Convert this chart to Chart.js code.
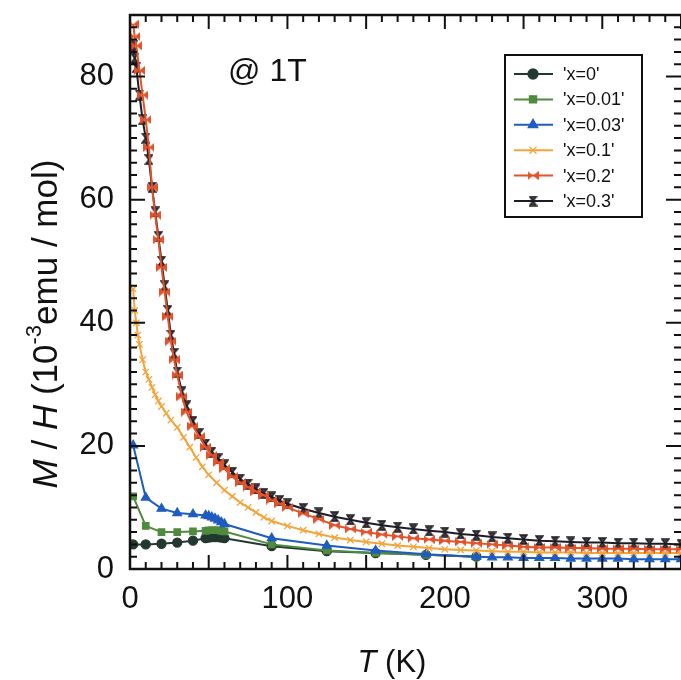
<!DOCTYPE html>
<html>
<head>
<meta charset="UTF-8">
<title>M/H vs T</title>
<script src="https://cdn.jsdelivr.net/npm/chart.js"></script>
<style>
  body { margin: 0; padding: 0; background: #fff; }
  #wrap { width: 681px; height: 680px; position: relative; }
</style>
</head>
<body>
<div id="wrap"><canvas id="mh"></canvas></div>
<script>
// series names
var seriesNames = ["'x=0'", "'x=0.01'", "'x=0.03'", "'x=0.1'", "'x=0.2'", "'x=0.3'"];

// temperatures (K)
var tSparse = [2, 10, 20, 30, 40, 48, 50, 52, 54, 56, 58, 60, 90, 125, 156, 188, 220];
var tBlue = [2, 10, 20, 30, 40, 48, 50, 52, 54, 56, 58, 60, 90, 125, 156, 188, 220, 230, 240, 250, 260, 270, 280, 290, 300, 310, 320, 330, 340, 350];
var tOrange = [2, 3, 4, 5, 6, 8, 10, 12, 14, 16, 18, 20, 23, 26, 30, 34, 38, 42, 46, 50, 55, 60, 65, 70, 75, 80, 85, 90,
  100, 110, 120, 130, 140, 150, 160, 170, 180, 190, 200, 210, 220, 230, 240, 250, 260, 270, 280, 290, 300, 310, 320, 330, 340, 350];
var tDense = [2, 3, 4, 6, 8, 10, 12, 14, 16, 18, 20, 22, 24, 26, 28, 30, 33, 36, 40, 44, 48, 52, 56, 60, 65, 70, 75, 80, 85, 90, 95, 100,
  110, 120, 130, 140, 150, 160, 170, 180, 190, 200, 210, 220, 230, 240, 250, 260, 270, 280, 290, 300, 310, 320, 330, 340, 350];

// M/H values (10^-3 emu/mol)
var mhX0 = [4.0, 4.0, 4.1, 4.3, 4.6, 5.0, 5.1, 5.2, 5.2, 5.2, 5.1, 5.0, 3.7, 2.9, 2.6, 2.3, 2.0];
var mhX001 = [11.8, 7.0, 6.0, 6.0, 6.1, 6.2, 6.3, 6.3, 6.3, 6.3, 6.2, 6.1, 4.0, 3.0, 2.6, 2.3, 2.0];
var mhX003 = [20.1, 11.6, 9.8, 9.1, 8.9, 8.7, 8.6, 8.4, 8.2, 7.9, 7.6, 7.3, 5.0, 3.8, 3.0, 2.4, 2.0, 1.9, 1.9, 1.8, 1.8, 1.8, 1.7, 1.7, 1.7, 1.7, 1.6, 1.6, 1.6, 1.6];
var mhX01 = [45.5, 42, 40, 38, 36.5, 34, 32, 30.8, 29.5, 28.3, 27.3, 26.4, 25.3, 24.2, 23, 21.4, 19.8, 18.1, 16.6, 15.3, 14, 12.8, 11.8, 10.8, 10, 9.2, 8.4, 7.8,
  7.0, 6.3, 5.7, 5.1, 4.7, 4.4, 4.1, 3.8, 3.6, 3.4, 3.2, 3.1, 3.0, 2.9, 2.8, 2.8, 2.7, 2.7, 2.7, 2.6, 2.6, 2.6, 2.6, 2.6, 2.6, 2.6];
var mhX02 = [88.5, 86.5, 85, 81, 77, 73, 68.5, 62, 57.5, 53.5, 49, 45, 41, 37, 34, 31.5, 28, 25.5, 23.2, 21.5, 19.8, 18.5, 17.3, 16.3, 15, 14, 13.3, 12.6, 12, 11.2, 10.6, 10,
  9.0, 8.1, 7.1, 6.5, 6.0, 5.6, 5.3, 5.0, 4.8, 4.6, 4.4, 4.2, 4.0, 3.8, 3.6, 3.5, 3.5, 3.4, 3.4, 3.3, 3.3, 3.3, 3.2, 3.2, 3.2];
var mhX03 = [85, 83, 81.5, 77, 73, 70, 66.5, 62, 58, 54, 50, 46, 42, 38, 35, 32, 28.8, 26.5, 24, 22, 20.3, 19, 17.9, 16.9, 15.7, 14.6, 13.8, 13, 12.3, 11.7, 11.1, 10.6,
  9.8, 9.1, 8.5, 8.0, 7.5, 7.1, 6.8, 6.5, 6.2, 6.0, 5.7, 5.5, 5.2, 5.0, 4.8, 4.6, 4.5, 4.4, 4.3, 4.3, 4.2, 4.2, 4.1, 4.1, 4.0];

// axis ticks
var xLabelTicks = [0, 100, 200, 300];
var yLabelTicks = [0, 20, 40, 60, 80];

function pts(ts, vs) {
  return ts.map(function (t, i) { return { x: t, y: vs[i] }; });
}

// bowtie marker for x=0.2
function bowtie(col) {
  var c = document.createElement('canvas');
  c.width = 11; c.height = 9;
  var g = c.getContext('2d');
  g.fillStyle = col;
  g.beginPath(); g.moveTo(0, 0); g.lineTo(5.5, 4.5); g.lineTo(0, 9); g.closePath(); g.fill();
  g.beginPath(); g.moveTo(11, 0); g.lineTo(5.5, 4.5); g.lineTo(11, 9); g.closePath(); g.fill();
  return c;
}
// hourglass marker for x=0.3
function hourglass(col) {
  var c = document.createElement('canvas');
  c.width = 9; c.height = 11;
  var g = c.getContext('2d');
  g.fillStyle = '#5a4040';
  g.strokeStyle = col;
  g.lineWidth = 1.4;
  g.beginPath(); g.moveTo(1, 1); g.lineTo(8, 1); g.lineTo(4.5, 5.5); g.lineTo(8, 10); g.lineTo(1, 10); g.lineTo(4.5, 5.5); g.closePath();
  g.fill(); g.stroke();
  return c;
}

var colors = ['#23392f', '#4f8a3e', '#1e5cc0', '#f3a43c', '#e2532c', '#1c1c24'];
var redMark = bowtie(colors[4]);
var blackMark = hourglass(colors[5]);

function ds(i, data, style, radius, order) {
  return {
    label: seriesNames[i],
    data: data,
    order: order,
    borderColor: colors[i],
    backgroundColor: colors[i],
    borderWidth: 2,
    pointStyle: style,
    pointRadius: radius,
    pointBorderWidth: 1.3,
    pointBorderColor: colors[i],
    pointBackgroundColor: colors[i],
    tension: 0,
    fill: false
  };
}

var datasets = [
  ds(0, pts(tSparse, mhX0), 'circle', 4.5, 6),
  ds(1, pts(tSparse, mhX001), 'rect', 4.5, 5),
  ds(2, pts(tBlue, mhX003), 'triangle', 5, 4),
  ds(3, pts(tOrange, mhX01), 'crossRot', 4.5, 3),
  ds(5, pts(tDense, mhX03), blackMark, 5, 2),
  ds(4, pts(tDense, mhX02), redMark, 5, 1)
];

var FONT = 'Arial, "Liberation Sans", sans-serif';

var deco = {
  id: 'deco',
  afterDraw: function (chart) {
    var ctx = chart.ctx, a = chart.chartArea, x = chart.scales.x, y = chart.scales.y;
    ctx.save();
    ctx.strokeStyle = '#111';
    ctx.lineWidth = 2.5;
    ctx.beginPath();
    ctx.moveTo(a.right + 2, a.top); ctx.lineTo(a.left, a.top); ctx.lineTo(a.left, a.bottom); ctx.lineTo(a.right + 2, a.bottom);
    ctx.stroke();

    // inward ticks
    ctx.lineWidth = 2;
    var v, px, len;
    for (v = 0; v <= 350; v += 10) {
      px = x.getPixelForValue(v);
      len = v % 50 === 0 ? 14 : 7;
      ctx.beginPath();
      ctx.moveTo(px, a.bottom); ctx.lineTo(px, a.bottom - len);
      ctx.moveTo(px, a.top); ctx.lineTo(px, a.top + len);
      ctx.stroke();
    }
    for (v = 0; v <= 90; v += 2) {
      px = y.getPixelForValue(v);
      len = v % 20 === 0 ? 15 : 7;
      ctx.beginPath();
      ctx.moveTo(a.left, px); ctx.lineTo(a.left + len, px);
      ctx.moveTo(a.right, px); ctx.lineTo(a.right - len, px);
      ctx.stroke();
    }

    // x title
    ctx.fillStyle = '#111';
    ctx.textBaseline = 'alphabetic';
    ctx.font = 'italic 31px ' + FONT;
    var wT = ctx.measureText('T').width;
    ctx.font = '31px ' + FONT;
    var wK = ctx.measureText(' (K)').width;
    var sx = 392 - (wT + wK) / 2;
    ctx.font = 'italic 31px ' + FONT;
    ctx.fillText('T', sx, 672);
    ctx.font = '31px ' + FONT;
    ctx.fillText(' (K)', sx + wT, 672);

    // y title
    ctx.save();
    ctx.translate(57, 324);
    ctx.rotate(-Math.PI / 2);
    var parts = [
      ['M', 'italic 35px ', 0], [' / ', '35px ', 0], ['H', 'italic 35px ', 0], [' (10', '35px ', 0],
      ['-3', '22px ', -16], ['emu / mol)', '35px ', 0]
    ];
    var total = 0;
    parts.forEach(function (p) { ctx.font = p[1] + FONT; p.push(ctx.measureText(p[0]).width); total += p[3]; });
    var cx = -total / 2;
    parts.forEach(function (p) {
      ctx.font = p[1] + FONT;
      ctx.fillText(p[0], cx, p[2]);
      cx += p[3];
    });
    ctx.restore();

    // annotation
    ctx.font = '32px ' + FONT;
    ctx.fillText('@ 1T', 228, 81);

    // legend
    var lx = 505, ly = 55, lw = 137, lh = 162;
    ctx.fillStyle = '#fff';
    ctx.fillRect(lx, ly, lw, lh);
    ctx.strokeStyle = '#111';
    ctx.lineWidth = 2;
    ctx.strokeRect(lx, ly, lw, lh);
    var order = [0, 1, 2, 3, 5, 4];
    order.forEach(function (di, row) {
      var d = chart.data.datasets[di];
      var ry = 74 + row * 25.4;
      ctx.strokeStyle = d.borderColor;
      ctx.lineWidth = 2;
      ctx.beginPath(); ctx.moveTo(514, ry); ctx.lineTo(553, ry); ctx.stroke();
      ctx.fillStyle = d.pointBackgroundColor;
      ctx.lineWidth = 1.3;
      Chart.helpers.drawPoint(ctx, { pointStyle: d.pointStyle, radius: d.pointRadius + 0.5, borderWidth: 1.3, rotation: 0 }, 533, ry);
      ctx.fillStyle = '#111';
      ctx.font = '18px ' + FONT;
      ctx.textBaseline = 'middle';
      ctx.fillText(d.label, 563, ry + 1);
    });
    ctx.restore();
  }
};

new Chart(document.getElementById('mh'), {
  type: 'line',
  data: { datasets: datasets },
  options: {
    responsive: true,
    maintainAspectRatio: false,
    animation: false,
    layout: { padding: { top: 15, left: 0, right: 0, bottom: 0 }, autoPadding: false },
    plugins: { legend: { display: false }, tooltip: { enabled: false } },
    scales: {
      x: {
        type: 'linear', min: 0, max: 350,
        grid: { display: false, drawTicks: false },
        border: { display: false },
        afterFit: function (s) { s.height = 111; s.paddingLeft = 0; s.paddingRight = 0; },
        afterBuildTicks: function (s) { s.ticks = xLabelTicks.map(function (v) { return { value: v }; }); },
        ticks: { color: '#111', padding: 12, font: { family: FONT, size: 31 }, maxRotation: 0 }
      },
      y: {
        min: 0, max: 90,
        grid: { display: false, drawTicks: false },
        border: { display: false },
        afterFit: function (s) { s.width = 130; s.paddingTop = 0; s.paddingBottom = 0; },
        afterBuildTicks: function (s) { s.ticks = yLabelTicks.map(function (v) { return { value: v }; }); },
        ticks: { color: '#111', padding: 16, font: { family: FONT, size: 31 } }
      }
    }
  },
  plugins: [deco]
});
</script>
</body>
</html>
